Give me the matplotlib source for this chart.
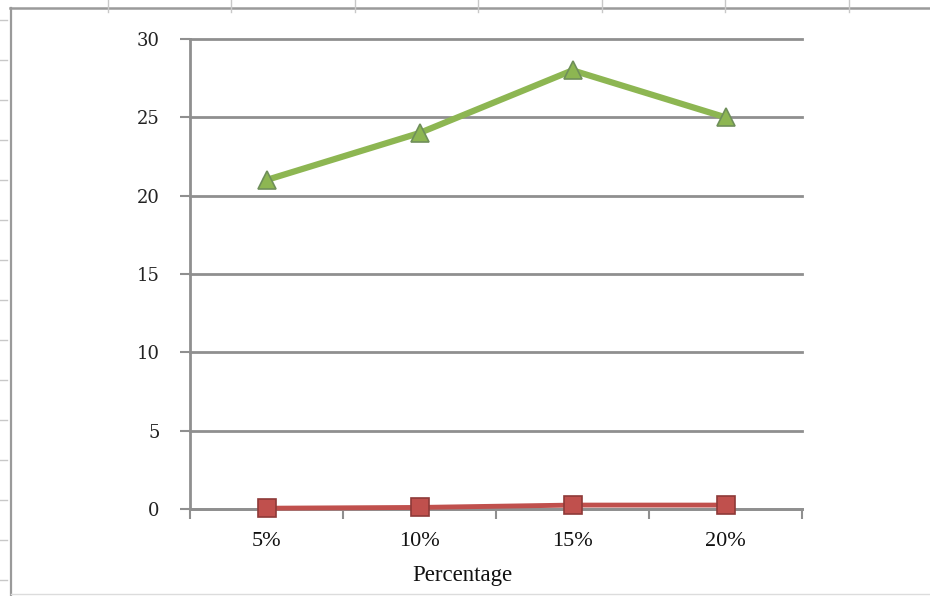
import matplotlib
matplotlib.use("Agg")
import matplotlib.pyplot as plt
from matplotlib.lines import Line2D

# Data
categories = ["5%", "10%", "15%", "20%"]
series_a = [21, 24, 28, 25]          # green, triangles
series_b = [0.05, 0.1, 0.25, 0.25]   # red, squares
y_ticks = [0, 5, 10, 15, 20, 25, 30]
x_label = "Percentage"

W, H = 930, 596
fig = plt.figure(figsize=(W / 100, H / 100), dpi=100)
fig.patch.set_facecolor("white")

def fx(px):
    return px / W

def fy(py):
    return 1 - py / H

def fig_line(xs, ys, **kw):
    fig.add_artist(Line2D([fx(v) for v in xs], [fy(v) for v in ys],
                          transform=fig.transFigure, **kw))

# Outer chart frame (open on the right)
fig_line([10, 930], [8, 8], color="#9a9a9a", lw=1.8)
fig_line([11, 11], [8, 596], color="#9a9a9a", lw=1.6)
fig_line([11, 930], [594, 594], color="#dcdcdc", lw=1.0)
# Faint ruler marks along the top and left edges
for px in [108, 231, 355, 478, 602, 725, 849]:
    fig_line([px, px], [0, 12], color="#c8c8c8", lw=1)
for py in range(20, 596, 40):
    fig_line([0, 7], [py, py], color="#c8c8c8", lw=1)

left, right, bottom, top = 190, 802, 509, 39
ax = fig.add_axes([fx(left), fy(bottom), fx(right) - fx(left), fy(top) - fy(bottom)])

x = list(range(len(categories)))
ax.set_xlim(-0.5, len(categories) - 0.5)
ax.set_ylim(0, 30)

grid_c = "#8f8f8f"
for v in y_ticks:
    ax.axhline(v, color=grid_c, lw=2.0, zorder=1, clip_on=False)

ax.plot(x, series_b, color="#c0504d", lw=3.5, marker="s", markersize=13,
        markerfacecolor="#c0504d", markeredgecolor="#8e3a38", markeredgewidth=1.2,
        zorder=3, clip_on=False)
ax.plot(x, series_a, color="#8db652", lw=4.5, marker="^", markersize=13,
        markerfacecolor="#8db652", markeredgecolor="#6f8f5a", markeredgewidth=1.2,
        zorder=4, clip_on=False)

for s in ["top", "right"]:
    ax.spines[s].set_visible(False)
ax.spines["left"].set_color(grid_c)
ax.spines["left"].set_linewidth(2.0)
ax.spines["bottom"].set_color(grid_c)
ax.spines["bottom"].set_linewidth(2.0)

ax.set_yticks(y_ticks)
ax.set_yticklabels([str(v) for v in y_ticks], fontsize=13, family="DejaVu Serif",
                   color="#222222")
ax.tick_params(axis="y", length=7, width=1.5, color=grid_c, pad=15)

# Tick marks at category boundaries, labels at category centres
ax.set_xticks([i - 0.5 for i in range(len(categories) + 1)])
ax.set_xticklabels([""] * (len(categories) + 1))
ax.tick_params(axis="x", length=7, width=1.5, color=grid_c)
serif = "Liberation Serif"
for i, c in enumerate(categories):
    ax.text(i, -1.45, c, ha="center", va="top", fontsize=16, family=serif,
            color="#111111")
ax.text(1.28, -3.6, x_label, ha="center", va="top", fontsize=16.5, family=serif,
        color="#111111")

fig.savefig("out.png", dpi=100, facecolor="white")
